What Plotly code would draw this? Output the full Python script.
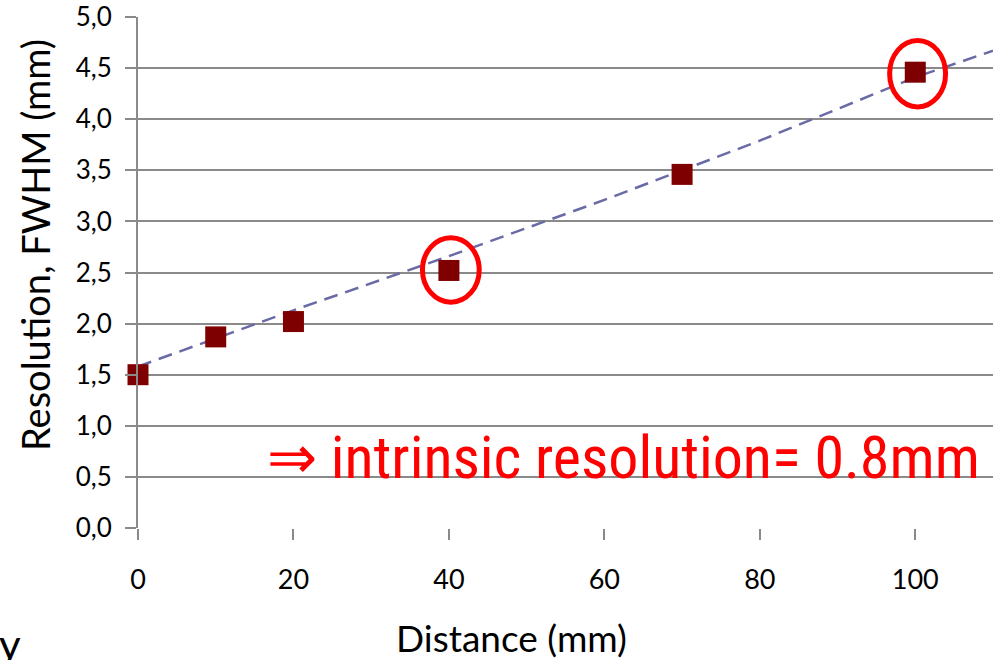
import plotly.graph_objects as go

# Measured data
distance = [0, 10, 20, 40, 70, 100]
resolution = [1.50, 1.87, 2.02, 2.52, 3.46, 4.46]

# Dashed trend line
trend_x = [0, 20, 40, 60, 80, 100, 110]
trend_y = [1.58, 2.13, 2.66, 3.21, 3.79, 4.41, 4.67]

x_ticks = [0, 20, 40, 60, 80, 100]
y_ticks = [0.0, 0.5, 1.0, 1.5, 2.0, 2.5, 3.0, 3.5, 4.0, 4.5, 5.0]

x_title = "Distance (mm)"
y_title = "Resolution, FWHM (mm)"
annotation_text = "\u21d2 intrinsic resolution= 0.8mm"

grid = "#8a8a8a"
font_main = "Lato, Carlito, 'Liberation Sans', sans-serif"

fig = go.Figure()
fig.add_trace(go.Scatter(
    x=trend_x, y=trend_y, mode="lines",
    line=dict(color="#6a6aa6", width=2.5, dash="14px,8px"),
    hoverinfo="skip", showlegend=False,
))
fig.add_trace(go.Scatter(
    x=distance, y=resolution, mode="markers",
    marker=dict(symbol="square", size=21, color="#7f0000"),
    cliponaxis=False, showlegend=False,
))

# red ellipses around two points
fig.add_shape(type="circle", xref="x", yref="y",
              x0=36.6, x1=43.9, y0=2.21, y1=2.84,
              line=dict(color="#ff0000", width=5))
fig.add_shape(type="circle", xref="x", yref="y",
              x0=96.7, x1=103.9, y0=4.12, y1=4.77,
              line=dict(color="#ff0000", width=5))

fig.add_annotation(
    x=16.4, y=0.69, xref="x", yref="y", xanchor="left", yanchor="middle",
    text=annotation_text, showarrow=False,
    font=dict(family="'Liberation Sans Narrow', 'Roboto Condensed', 'Liberation Sans', sans-serif",
              size=60, color="#ff0000"),
)

# axis titles (placed like the original, not centred on the plot area)
fig.add_annotation(
    x=511, y=637, xref="x domain", yref="y domain", showarrow=False,
    xanchor="center", yanchor="middle",
    text=x_title, font=dict(family=font_main, size=37, color="#000"),
)
fig.add_annotation(
    x=35, y=245, xref="x domain", yref="y domain", showarrow=False,
    xanchor="center", yanchor="middle",
    text=y_title, textangle=-90, font=dict(family=font_main, size=38, color="#000"),
)

# partially visible letter at bottom-left (from slide)
fig.add_annotation(
    x=0, y=-0.175, xref="paper", yref="paper", xanchor="left", yanchor="top",
    text="y", showarrow=False, xshift=-141,
    font=dict(family=font_main, size=42, color="#000000"),
)

fig.update_layout(
    width=1001, height=660,
    margin=dict(l=138, r=8, t=17, b=132, autoexpand=False),
    plot_bgcolor="white", paper_bgcolor="white",
    separators=",.",
    showlegend=False,
    xaxis=dict(
        range=[0, 110], tickvals=x_ticks, showgrid=False, zeroline=False,
        automargin=False,
        ticks="outside", ticklen=11, tickwidth=2, tickcolor=grid,
        ticklabelstandoff=17,
        showline=False,
        tickfont=dict(family=font_main, size=27, color="#000"),
    ),
    yaxis=dict(
        range=[0, 5.0], tickvals=y_ticks, tickformat=".1f",
        automargin=False,
        showgrid=True, gridcolor=grid, gridwidth=2, zeroline=False,
        showline=True, linecolor=grid, linewidth=2,
        ticks="outside", ticklen=11, tickwidth=2, tickcolor=grid,
        ticklabelstandoff=8,
        tickfont=dict(family=font_main, size=26, color="#000"),
    ),
)

# convert the pixel positions of the two title annotations into domain fractions
L, R, T, B, W, H = 138, 8, 17, 132, 1001, 660
pw, ph = W - L - R, H - T - B
for ann in fig.layout.annotations:
    if ann.text in (x_title, y_title):
        ann.x = (ann.x - L) / pw
        ann.y = (H - B - ann.y) / ph

fig.write_html("out.html", config={"displayModeBar": False},
               post_script="document.body.style.margin='0';")
